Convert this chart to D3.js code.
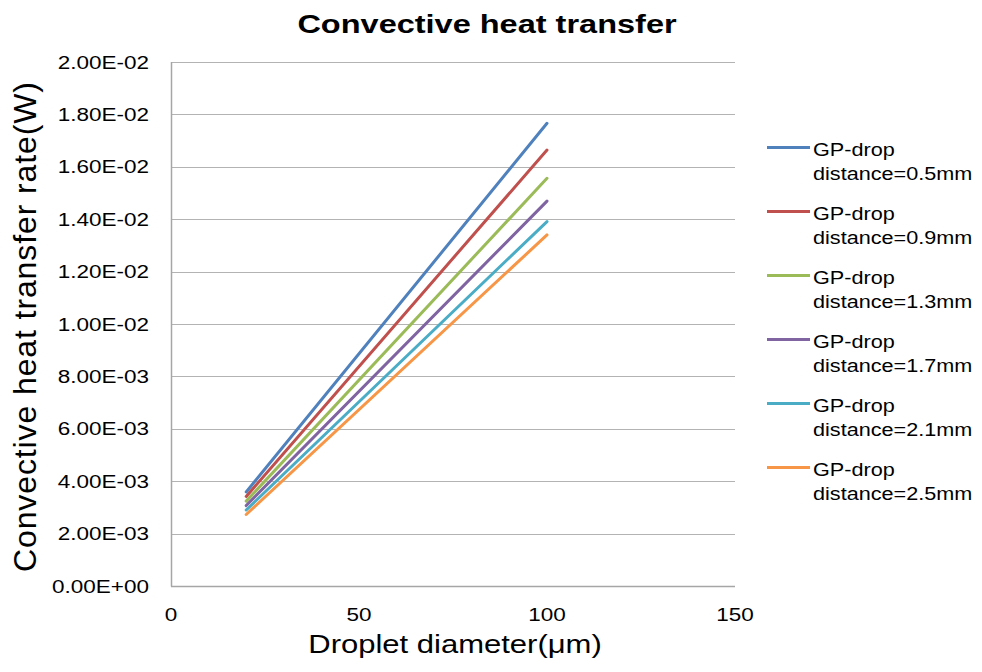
<!DOCTYPE html>
<html>
<head>
<meta charset="utf-8">
<script src="https://cdn.jsdelivr.net/npm/d3@7"></script>
<style>
  html, body { margin: 0; padding: 0; background: #fff; }
  text { font-family: "Liberation Sans", Arial, sans-serif; fill: #000; }
</style>
</head>
<body>
<svg id="chart" width="982" height="672"></svg>
<script>
const title = "Convective heat transfer";
const xLabel = "Droplet diameter(\u03bcm)";
const yLabel = "Convective heat transfer rate(W)";
const diameters = [20, 100];
const seriesNames = [
  ["GP-drop", "distance=0.5mm"],
  ["GP-drop", "distance=0.9mm"],
  ["GP-drop", "distance=1.3mm"],
  ["GP-drop", "distance=1.7mm"],
  ["GP-drop", "distance=2.1mm"],
  ["GP-drop", "distance=2.5mm"]
];
const s05 = [0.00359, 0.01766];
const s09 = [0.00342, 0.01664];
const s13 = [0.00324, 0.01556];
const s17 = [0.00307, 0.01469];
const s21 = [0.00290, 0.01391];
const s25 = [0.00273, 0.01340];
const seriesValues = [s05, s09, s13, s17, s21, s25];
const colors = ["#4F81BD", "#C0504D", "#9BBB59", "#8064A2", "#4BACC6", "#F79646"];
const xTicks = [0, 50, 100, 150];
const yTicks = [0, 0.002, 0.004, 0.006, 0.008, 0.010, 0.012, 0.014, 0.016, 0.018, 0.020];
const yTickLabels = ["0.00E+00","2.00E-03","4.00E-03","6.00E-03","8.00E-03","1.00E-02","1.20E-02","1.40E-02","1.60E-02","1.80E-02","2.00E-02"];

const svg = d3.select("#chart");
const plot = { left: 171, right: 735, top: 62, bottom: 586 };
const x = d3.scaleLinear().domain([0, 150]).range([plot.left, plot.right]);
const y = d3.scaleLinear().domain([0, 0.02]).range([plot.bottom, plot.top]);

// gridlines
svg.append("g").selectAll("line").data(yTicks.slice(1)).join("line")
  .attr("x1", plot.left).attr("x2", plot.right)
  .attr("y1", d => Math.round(y(d)) + 0.5).attr("y2", d => Math.round(y(d)) + 0.5)
  .attr("stroke", "#B3B3B3").attr("stroke-width", 1.2);

// axes lines
svg.append("line").attr("x1", plot.left + 0.5).attr("x2", plot.left + 0.5)
  .attr("y1", plot.top).attr("y2", plot.bottom + 0.5).attr("stroke", "#A6A6A6").attr("stroke-width", 1.5);
svg.append("line").attr("x1", plot.left).attr("x2", plot.right)
  .attr("y1", plot.bottom + 0.5).attr("y2", plot.bottom + 0.5).attr("stroke", "#A6A6A6").attr("stroke-width", 1.5);

// y tick labels
svg.append("g").selectAll("text").data(yTicks).join("text")
  .attr("text-anchor", "end")
  .attr("transform", d => `translate(149,${y(d) + 6.5}) scale(1.25,1)`)
  .style("font-size", "18px")
  .text((d, i) => yTickLabels[i]);

// x tick labels
svg.append("g").selectAll("text").data(xTicks).join("text")
  .attr("text-anchor", "middle")
  .attr("transform", d => `translate(${x(d)},621) scale(1.25,1)`)
  .style("font-size", "18px")
  .text(d => d);

// lines
const line = d3.line().x((d, i) => x(diameters[i])).y(d => y(d));
svg.append("g").selectAll("path").data(seriesValues).join("path")
  .attr("d", d => line(d))
  .attr("fill", "none")
  .attr("stroke", (d, i) => colors[i])
  .attr("stroke-width", 3)
  .attr("stroke-linecap", "round");

// title
svg.append("text").attr("text-anchor", "middle")
  .attr("transform", "translate(487,33) scale(1.3,1)")
  .style("font-size", "25px").style("font-weight", "bold")
  .text(title);

// x label
svg.append("text").attr("text-anchor", "middle")
  .attr("transform", "translate(455,653) scale(1.17,1)")
  .style("font-size", "26.5px")
  .text(xLabel);

// y label
svg.append("text").attr("text-anchor", "middle")
  .attr("transform", "translate(36,327) rotate(-90)")
  .style("font-size", "32px")
  .attr("textLength", 490).attr("lengthAdjust", "spacing")
  .text(yLabel);

// legend
const leg = svg.append("g").selectAll("g").data(seriesNames).join("g")
  .attr("transform", (d, i) => `translate(0,${147.5 + i * 64})`);
leg.append("line").attr("x1", 767).attr("x2", 810).attr("y1", 0).attr("y2", 0)
  .attr("stroke", (d, i) => colors[i]).attr("stroke-width", 3);
leg.append("text").attr("transform", "translate(813,8.5) scale(1.17,1)")
  .style("font-size", "18.5px").text(d => d[0]);
leg.append("text").attr("transform", "translate(813,32) scale(1.17,1)")
  .style("font-size", "18.5px").text(d => d[1]);
</script>
</body>
</html>
